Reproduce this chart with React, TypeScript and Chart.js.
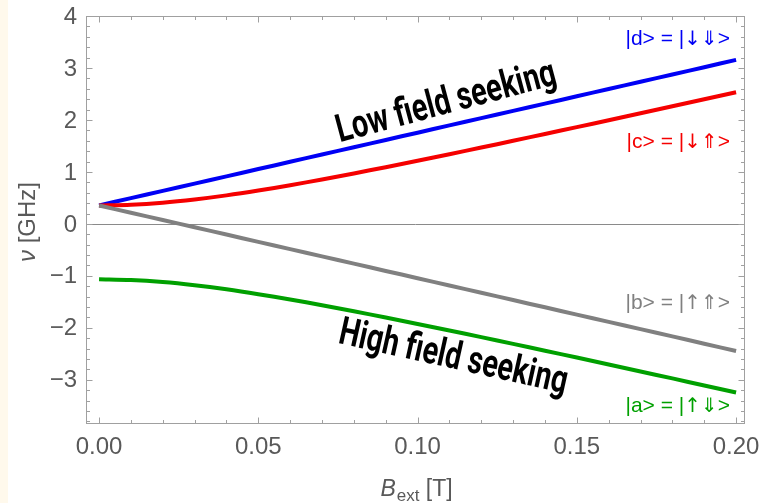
import React, { useEffect, useRef } from "react";
import { Chart, registerables } from "chart.js";

Chart.register(...registerables);

// ---- Data (B in tesla, energies in GHz) ----
const B_FIELD = [
  0, 0.01, 0.02, 0.03, 0.04, 0.05, 0.06, 0.07, 0.08, 0.09, 0.1,
  0.11, 0.12, 0.13, 0.14, 0.15, 0.16, 0.17, 0.18, 0.19, 0.2,
];
const STATE_D = [
  0.355, 0.495, 0.635, 0.775, 0.915, 1.055, 1.195, 1.335, 1.475, 1.615, 1.755,
  1.895, 2.035, 2.175, 2.315, 2.455, 2.595, 2.735, 2.875, 3.015, 3.155,
];
const STATE_C = [
  0.355, 0.369, 0.408, 0.47, 0.549, 0.642, 0.745, 0.855, 0.971, 1.091, 1.215,
  1.341, 1.469, 1.599, 1.73, 1.862, 1.995, 2.129, 2.263, 2.398, 2.533,
];
const STATE_B = [
  0.355, 0.215, 0.075, -0.065, -0.205, -0.345, -0.485, -0.625, -0.765, -0.905, -1.045,
  -1.185, -1.325, -1.465, -1.605, -1.745, -1.885, -2.025, -2.165, -2.305, -2.445,
];
const STATE_A = [
  -1.065, -1.079, -1.118, -1.18, -1.259, -1.352, -1.455, -1.565, -1.681, -1.801, -1.925,
  -2.051, -2.179, -2.309, -2.44, -2.572, -2.705, -2.839, -2.973, -3.108, -3.243,
];
const X_TICKS = [0, 0.05, 0.1, 0.15, 0.2];
const Y_TICKS = [-3, -2, -1, 0, 1, 2, 3, 4];
const X_MINOR_STEP = 0.01;
const Y_MINOR_STEP = 0.2;
const STATE_LABELS = ["|d> = |↓⇓>", "|c> = |↓⇑>", "|b> = |↑⇑>", "|a> = |↑⇓>"];
const REGION_LABELS = ["Low field seeking", "High field seeking"];
const Y_TITLE = ["ν", " [GHz]"];
const X_TITLE = ["B", "ext", " [T]"];

const COLORS = {
  d: "#0000f5",
  c: "#f50000",
  b: "#808080",
  a: "#00a000",
};

const TICK_GREY = "#595959";
const FONT = "'Liberation Sans', Arial, sans-serif";
const ARROW_FONT = "'DejaVu Sans', sans-serif";
const ARROWS = "↓↑⇓⇑";

function toPoints(ys: number[]) {
  return B_FIELD.map((x, i) => ({ x, y: ys[i] }));
}

function drawRegionLabel(
  ctx: CanvasRenderingContext2D,
  text: string,
  cx: number,
  cy: number,
  angleDeg: number,
  targetW: number,
  fontPx: number
) {
  ctx.save();
  ctx.font = `bold ${fontPx}px Roboto, 'DejaVu Sans Condensed', sans-serif`;
  const w = ctx.measureText(text).width;
  ctx.translate(cx, cy);
  ctx.rotate((angleDeg * Math.PI) / 180);
  ctx.scale(targetW / w, 1);
  ctx.textAlign = "center";
  ctx.textBaseline = "alphabetic";
  ctx.fillStyle = "#000000";
  ctx.fillText(text, 0, 0);
  ctx.restore();
}

function drawStateLabel(
  ctx: CanvasRenderingContext2D,
  text: string,
  color: string,
  rightX: number,
  baseY: number
) {
  ctx.save();
  ctx.fillStyle = color;
  ctx.textAlign = "left";
  ctx.textBaseline = "alphabetic";
  const parts = Array.from(text).map((ch) => ({
    ch,
    font: ARROWS.includes(ch) ? `20px ${ARROW_FONT}` : `21px ${FONT}`,
  }));
  let total = 0;
  const widths = parts.map((p) => {
    ctx.font = p.font;
    const w = ctx.measureText(p.ch).width;
    total += w;
    return w;
  });
  let x = rightX - total;
  parts.forEach((p, i) => {
    ctx.font = p.font;
    ctx.fillText(p.ch, x, baseY);
    x += widths[i];
  });
  ctx.restore();
}

const framePlugin = {
  id: "mmaFrame",
  beforeDraw(chart: any) {
    const ctx = chart.ctx as CanvasRenderingContext2D;
    ctx.save();
    ctx.fillStyle = "#ffffff";
    ctx.fillRect(0, 0, chart.width, chart.height);
    ctx.fillStyle = "#fff9ec";
    ctx.fillRect(0, 0, 8, chart.height);
    ctx.restore();
  },
  beforeDatasetsDraw(chart: any) {
    const ctx = chart.ctx as CanvasRenderingContext2D;
    const a = chart.chartArea;
    const y = chart.scales.y;
    const y0 = Math.round(y.getPixelForValue(0)) + 0.5;
    ctx.save();
    ctx.strokeStyle = "#8a8a8a";
    ctx.lineWidth = 1;
    ctx.beginPath();
    ctx.moveTo(a.left, y0);
    ctx.lineTo(a.right, y0);
    ctx.stroke();
    ctx.restore();
  },
  afterDatasetsDraw(chart: any) {
    const ctx = chart.ctx as CanvasRenderingContext2D;
    const a = chart.chartArea;
    const xs = chart.scales.x;
    const ys = chart.scales.y;
    ctx.save();
    // frame
    ctx.strokeStyle = "#a0a0a0";
    ctx.lineWidth = 1;
    const L = Math.round(a.left) + 0.5;
    const R = Math.round(a.right) - 0.5;
    const T = Math.round(a.top) + 0.5;
    const Bt = Math.round(a.bottom) - 0.5;
    ctx.strokeRect(L, T, R - L, Bt - T);
    // ticks
    const MAJ = 6;
    const MIN = 3.5;
    ctx.beginPath();
    for (let k = 0; k <= 20; k++) {
      const v = k * X_MINOR_STEP;
      const isMaj = X_TICKS.some((t) => Math.abs(t - v) < 1e-9);
      const len = isMaj ? MAJ : MIN;
      const px = Math.round(xs.getPixelForValue(v)) + 0.5;
      ctx.moveTo(px, Bt);
      ctx.lineTo(px, Bt - len);
      ctx.moveTo(px, T);
      ctx.lineTo(px, T + len);
    }
    for (let k = -19; k <= 20; k++) {
      const v = k * Y_MINOR_STEP;
      if (v < ys.min || v > ys.max) continue;
      const isMaj = Y_TICKS.some((t) => Math.abs(t - v) < 1e-9);
      const len = isMaj ? MAJ : MIN;
      const py = Math.round(ys.getPixelForValue(v)) + 0.5;
      ctx.moveTo(L, py);
      ctx.lineTo(L + len, py);
      ctx.moveTo(R, py);
      ctx.lineTo(R - len, py);
    }
    ctx.stroke();

    // tick labels
    ctx.fillStyle = TICK_GREY;
    ctx.font = `24px ${FONT}`;
    ctx.textBaseline = "middle";
    ctx.textAlign = "center";
    for (const v of X_TICKS) {
      ctx.fillText(v.toFixed(2), xs.getPixelForValue(v), 447);
    }
    ctx.textAlign = "right";
    for (const v of Y_TICKS) {
      const t = v < 0 ? "\u2212" + Math.abs(v) : String(v);
      ctx.fillText(t, 77, ys.getPixelForValue(v) + 1);
    }

    // axis titles
    ctx.textBaseline = "alphabetic";
    // y title
    ctx.save();
    ctx.translate(35, 222);
    ctx.rotate(-Math.PI / 2);
    ctx.font = `italic 24px ${FONT}`;
    const w0 = ctx.measureText(Y_TITLE[0]).width;
    ctx.font = `24px ${FONT}`;
    const w1 = ctx.measureText(Y_TITLE[1]).width;
    const sx = -(w0 + w1) / 2;
    ctx.textAlign = "left";
    ctx.font = `italic 24px ${FONT}`;
    ctx.fillText(Y_TITLE[0], sx, 0);
    ctx.font = `24px ${FONT}`;
    ctx.fillText(Y_TITLE[1], sx + w0, 0);
    ctx.restore();
    // x title
    ctx.save();
    ctx.textAlign = "left";
    ctx.font = `italic 23px ${FONT}`;
    const b0 = ctx.measureText(X_TITLE[0]).width;
    ctx.font = `17px ${FONT}`;
    const b1 = ctx.measureText(X_TITLE[1]).width;
    ctx.font = `23px ${FONT}`;
    const b2 = ctx.measureText(X_TITLE[2]).width;
    const bx = 416 - (b0 + b1 + b2) / 2;
    const by = 496;
    ctx.font = `italic 23px ${FONT}`;
    ctx.fillText(X_TITLE[0], bx, by);
    ctx.font = `17px ${FONT}`;
    ctx.fillText(X_TITLE[1], bx + b0 + 1, by + 5);
    ctx.font = `23px ${FONT}`;
    ctx.fillText(X_TITLE[2], bx + b0 + b1 + 1, by);
    ctx.restore();
    ctx.restore();

    // state labels
    drawStateLabel(ctx, STATE_LABELS[0], COLORS.d, 730, 45);
    drawStateLabel(ctx, STATE_LABELS[1], COLORS.c, 730, 148);
    drawStateLabel(ctx, STATE_LABELS[2], COLORS.b, 730, 309);
    drawStateLabel(ctx, STATE_LABELS[3], COLORS.a, 730, 412);

    drawRegionLabel(ctx, REGION_LABELS[0], 449, 113, -15, 226, 39);
    drawRegionLabel(ctx, REGION_LABELS[1], 451, 368, 12.5, 233, 39);
  },
};

export default function App() {
  const ref = useRef<HTMLCanvasElement | null>(null);
  useEffect(() => {
    if (!ref.current) return;
    const chart = new Chart(ref.current, {
      type: "line",
      data: {
        datasets: [
          { label: "b", data: toPoints(STATE_B), borderColor: COLORS.b },
          { label: "a", data: toPoints(STATE_A), borderColor: COLORS.a },
          { label: "c", data: toPoints(STATE_C), borderColor: COLORS.c },
          { label: "d", data: toPoints(STATE_D), borderColor: COLORS.d },
        ].map((d) => ({
          ...d,
          borderWidth: 4,
          pointRadius: 0,
          tension: 0.3,
          fill: false,
          borderCapStyle: "butt" as const,
        })),
      },
      options: {
        animation: false,
        responsive: false,
        devicePixelRatio: 1,
        layout: { padding: { left: 0, right: 16, top: 16, bottom: 0 } },
        plugins: { legend: { display: false }, tooltip: { enabled: false } },
        scales: {
          x: {
            type: "linear",
            min: -0.0041,
            max: 0.2028,
            afterFit: (s: any) => {
              s.height = 79;
            },
            grid: { display: false, drawTicks: false },
            border: { display: false },
            ticks: { display: false },
          },
          y: {
            type: "linear",
            min: -3.85,
            max: 4,
            afterFit: (s: any) => {
              s.width = 86;
            },
            grid: { display: false, drawTicks: false },
            border: { display: false },
            ticks: { display: false },
          },
        },
      },
      plugins: [framePlugin],
    });
    return () => chart.destroy();
  }, []);
  return (
    <div style={{ position: "fixed", left: 0, top: 0, width: 761, height: 503, background: "#fff" }}>
      <canvas ref={ref} width={761} height={503} style={{ display: "block" }} />
    </div>
  );
}
